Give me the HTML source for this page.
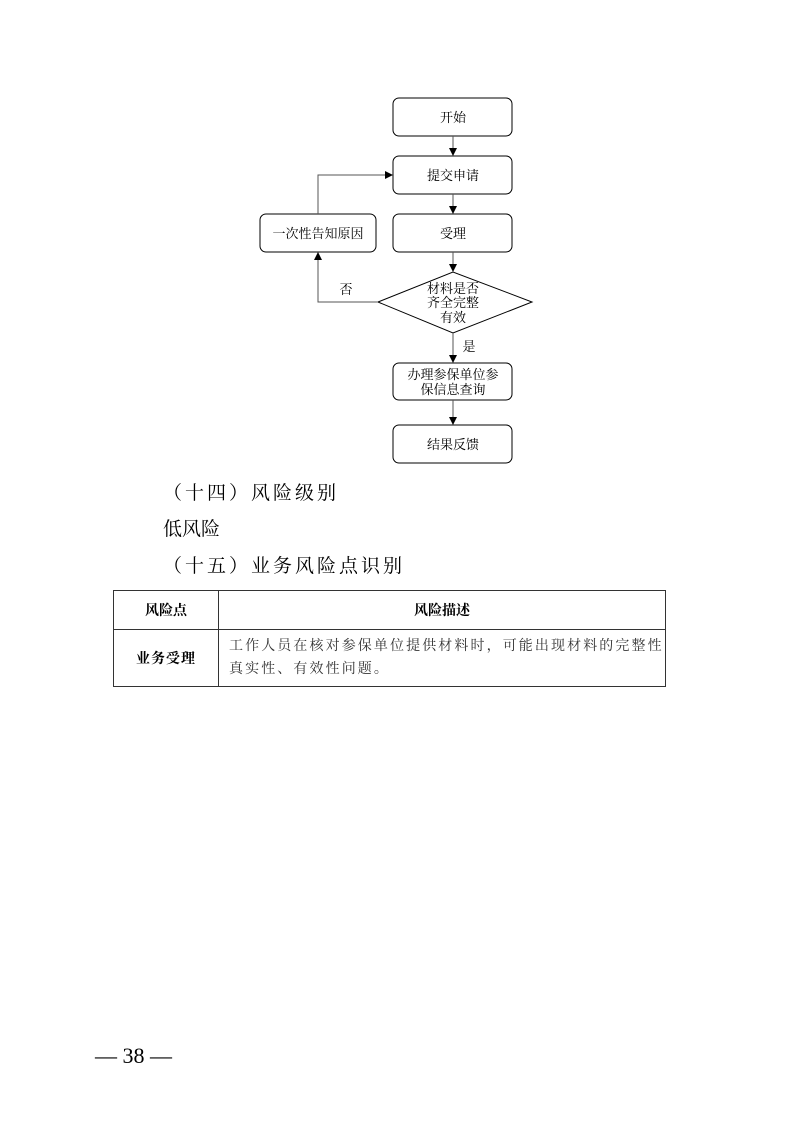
<!DOCTYPE html>
<html><head><meta charset="utf-8"><style>
body{margin:0;background:#fff;}
.p{position:relative;width:793px;height:1122px;overflow:hidden;font-family:"Liberation Serif","Noto Serif CJK SC",serif;color:#000;}
.h{position:absolute;left:163px;font-size:19px;letter-spacing:3px;white-space:nowrap;}
table{position:absolute;left:113px;top:590px;width:553px;border-collapse:collapse;font-size:14px;}
td{border:1px solid #333;padding:0;}
</style></head><body><div class="p">
<svg width="793" height="480" style="position:absolute;left:0;top:0" font-family="Liberation Serif,Noto Serif CJK SC,serif" font-size="13">
<defs><marker id="a" markerWidth="8" markerHeight="8" refX="7" refY="4" orient="auto" markerUnits="userSpaceOnUse"><path d="M0,0L8,4L0,8z" fill="#000"/></marker></defs>
<g fill="#fff" stroke="#000" stroke-width="1">
<rect x="393" y="98" width="119" height="38" rx="6"/>
<rect x="393" y="156" width="119" height="38" rx="6"/>
<rect x="393" y="214" width="119" height="38" rx="6"/>
<rect x="260" y="214" width="116" height="38" rx="6"/>
<polygon points="378,302 453,272 532,302 453,333"/>
<rect x="393" y="363" width="119" height="37" rx="6"/>
<rect x="393" y="425" width="119" height="38" rx="6"/>
</g>
<g stroke="#555" stroke-width="1" fill="none">
<line x1="453" y1="136" x2="453" y2="155" marker-end="url(#a)"/>
<line x1="453" y1="194" x2="453" y2="213" marker-end="url(#a)"/>
<line x1="453" y1="252" x2="453" y2="271" marker-end="url(#a)"/>
<line x1="453" y1="333" x2="453" y2="362" marker-end="url(#a)"/>
<line x1="453" y1="400" x2="453" y2="424" marker-end="url(#a)"/>
<polyline points="318,214 318,175 392,175" marker-end="url(#a)"/>
<polyline points="378,302 318,302 318,253" marker-end="url(#a)"/>
</g>
<g text-anchor="middle">
<text x="453" y="122">开始</text>
<text x="453" y="180">提交申请</text>
<text x="453" y="238">受理</text>
<text x="318" y="238">一次性告知原因</text>
<text x="453" y="293">材料是否</text>
<text x="453" y="307">齐全完整</text>
<text x="453" y="322">有效</text>
<text x="453" y="379">办理参保单位参</text>
<text x="453" y="394">保信息查询</text>
<text x="453" y="449">结果反馈</text>
<text x="346" y="294">否</text>
<text x="469" y="351">是</text>
</g>
</svg>
<div class="h" style="top:478px">（十四）风险级别</div>
<div class="h" style="top:514px;letter-spacing:0">低风险</div>
<div class="h" style="top:551px">（十五）业务风险点识别</div>
<table>
<tr style="height:39px"><td style="width:104px;text-align:center;font-weight:bold">风险点</td><td style="text-align:center;font-weight:bold">风险描述</td></tr>
<tr style="height:57px"><td style="text-align:center;font-weight:bold;letter-spacing:1px">业务受理</td><td style="padding:0 0 0 10px;line-height:23px;letter-spacing:2.1px;color:#333">工作人员在核对参保单位提供材料时，可能出现材料的完整性<br>真实性、有效性问题。</td></tr>
</table>
<div style="position:absolute;left:95px;top:1043px;font-size:22px;white-space:nowrap">— 38 —</div>
</div></body></html>
